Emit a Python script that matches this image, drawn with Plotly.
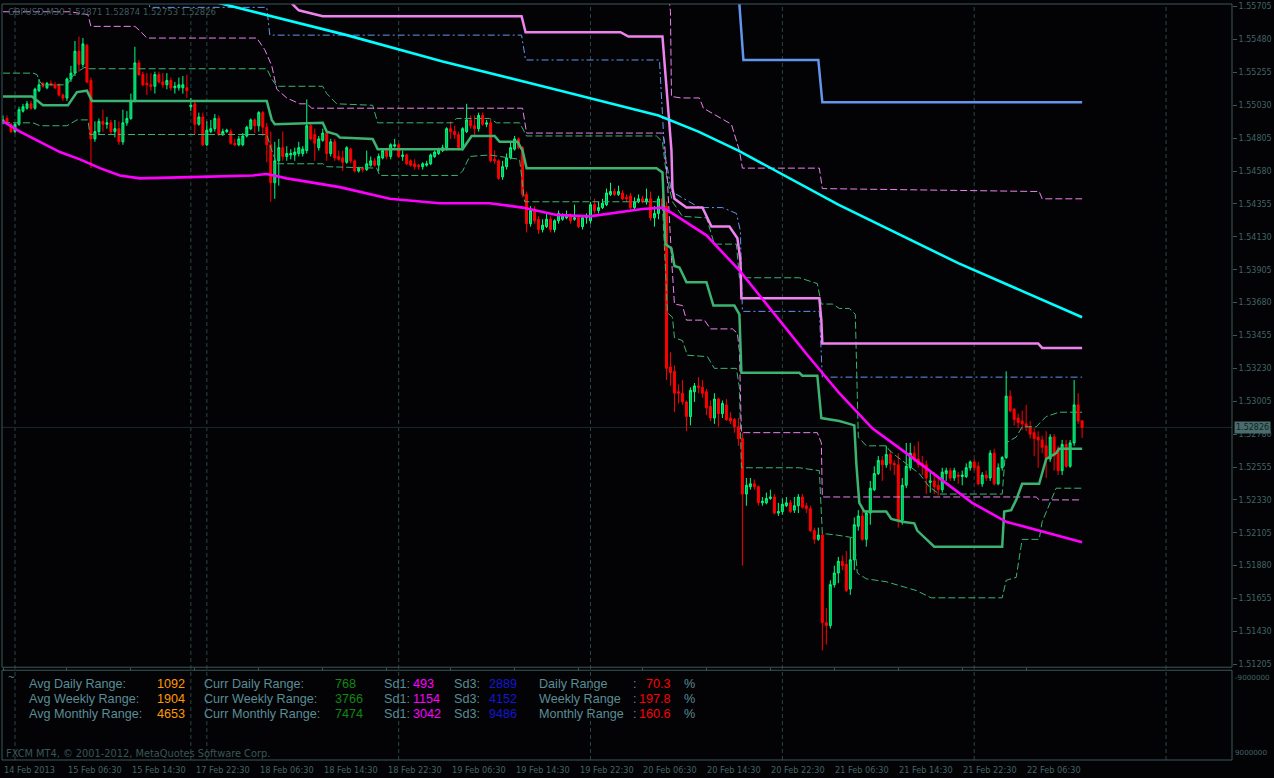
import plotly.graph_objects as go

# ---------------- data (GBPUSD M30) ----------------
BAR_INDEX = list(range(271))

OPEN = [
 1.5491,1.5494,1.5490,1.5485,1.5490,1.5499,1.5501,1.5504,1.5501,1.5513,
 1.5518,1.5515,1.5518,1.5517,1.5517,1.5510,1.5508,1.5521,1.5525,1.5540,
 1.5531,1.5544,1.5520,1.5480,1.5485,1.5492,1.5490,1.5491,1.5485,1.5487,
 1.5478,1.5491,1.5494,1.5506,1.5532,1.5524,1.5518,1.5517,1.5516,1.5524,
 1.5519,1.5517,1.5520,1.5515,1.5515,1.5515,1.5515,1.5502,1.5504,1.5490,
 1.5495,1.5476,1.5485,1.5487,1.5494,1.5483,1.5485,1.5485,1.5477,1.5476,
 1.5476,1.5482,1.5487,1.5493,1.5489,1.5498,1.5488,1.5476,1.5450,1.5465,
 1.5474,1.5468,1.5469,1.5469,1.5470,1.5470,1.5472,1.5489,1.5483,1.5474,
 1.5479,1.5484,1.5470,1.5478,1.5468,1.5467,1.5464,1.5473,1.5465,1.5458,
 1.5460,1.5459,1.5462,1.5465,1.5462,1.5467,1.5472,1.5468,1.5475,1.5476,
 1.5468,1.5469,1.5465,1.5463,1.5462,1.5461,1.5462,1.5463,1.5468,1.5470,
 1.5472,1.5474,1.5487,1.5485,1.5483,1.5474,1.5485,1.5493,1.5489,1.5487,
 1.5496,1.5490,1.5491,1.5466,1.5465,1.5454,1.5461,1.5467,1.5473,1.5480,
 1.5474,1.5442,1.5422,1.5431,1.5425,1.5418,1.5420,1.5425,1.5418,1.5424,
 1.5425,1.5426,1.5427,1.5425,1.5426,1.5420,1.5426,1.5424,1.5435,1.5431,
 1.5433,1.5435,1.5442,1.5444,1.5442,1.5443,1.5440,1.5441,1.5433,1.5437,
 1.5439,1.5437,1.5439,1.5426,1.5429,1.5439,1.5434,1.5324,1.5321,1.5307,
 1.5306,1.5300,1.5290,1.5307,1.5311,1.5310,1.5307,1.5297,1.5289,1.5302,
 1.5292,1.5298,1.5289,1.5288,1.5283,1.5275,1.5237,1.5242,1.5244,1.5242,
 1.5231,1.5231,1.5234,1.5235,1.5224,1.5225,1.5229,1.5231,1.5226,1.5229,
 1.5235,1.5229,1.5227,1.5212,1.5206,1.5209,1.5149,1.5147,1.5175,1.5183,
 1.5191,1.5189,1.5172,1.5192,1.5215,1.5222,1.5206,1.5224,1.5240,1.5251,
 1.5260,1.5257,1.5264,1.5258,1.5257,1.5219,1.5243,1.5255,1.5265,1.5261,
 1.5258,1.5257,1.5245,1.5246,1.5243,1.5240,1.5251,1.5253,1.5248,1.5250,
 1.5249,1.5249,1.5255,1.5259,1.5256,1.5244,1.5250,1.5248,1.5265,1.5244,
 1.5255,1.5262,1.5304,1.5295,1.5289,1.5287,1.5285,1.5283,1.5279,1.5276,
 1.5274,1.5270,1.5261,1.5276,1.5268,1.5253,1.5271,1.5256,1.5272,1.5298,
 1.52871]

HIGH = [
 1.5496,1.5496,1.5491,1.5491,1.5502,1.5504,1.5506,1.5506,1.5515,1.5521,
 1.5519,1.5519,1.5520,1.5519,1.5518,1.5511,1.5522,1.5530,1.5547,1.5550,
 1.5549,1.5545,1.5522,1.5492,1.5494,1.5500,1.5495,1.5493,1.5493,1.5492,
 1.5500,1.5499,1.5511,1.5543,1.5534,1.5526,1.5525,1.5525,1.5526,1.5526,
 1.5525,1.5525,1.5522,1.5519,1.5522,1.5523,1.5524,1.5508,1.5506,1.5498,
 1.5498,1.5492,1.5493,1.5497,1.5496,1.5487,1.5487,1.5487,1.5480,1.5482,
 1.5484,1.5489,1.5494,1.5494,1.5499,1.5499,1.5491,1.5485,1.5478,1.5480,
 1.5485,1.5475,1.5473,1.5474,1.5478,1.5475,1.5507,1.5491,1.5487,1.5482,
 1.5487,1.5485,1.5480,1.5480,1.5472,1.5472,1.5475,1.5474,1.5466,1.5461,
 1.5461,1.5472,1.5468,1.5467,1.5470,1.5473,1.5474,1.5477,1.5480,1.5477,
 1.5472,1.5470,1.5466,1.5466,1.5463,1.5464,1.5465,1.5470,1.5472,1.5474,
 1.5476,1.5488,1.5492,1.5489,1.5485,1.5488,1.5504,1.5496,1.5496,1.5498,
 1.5498,1.5493,1.5493,1.5472,1.5466,1.5465,1.5470,1.5478,1.5482,1.5481,
 1.5475,1.5444,1.5434,1.5434,1.5427,1.5425,1.5429,1.5427,1.5425,1.5431,
 1.5429,1.5431,1.5429,1.5435,1.5427,1.5427,1.5429,1.5437,1.5439,1.5437,
 1.5439,1.5446,1.5450,1.5446,1.5448,1.5445,1.5442,1.5443,1.5440,1.5442,
 1.5441,1.5446,1.5444,1.5434,1.5441,1.5442,1.5437,1.5334,1.5325,1.5312,
 1.5315,1.5301,1.5310,1.5313,1.5317,1.5315,1.5309,1.5301,1.5306,1.5303,
 1.5301,1.5302,1.5293,1.5289,1.5289,1.5279,1.5248,1.5248,1.5247,1.5243,
 1.5235,1.5238,1.5240,1.5237,1.5231,1.5234,1.5235,1.5233,1.5235,1.5237,
 1.5237,1.5231,1.5229,1.5214,1.5214,1.5211,1.5159,1.5178,1.5188,1.5194,
 1.5195,1.5198,1.5207,1.5221,1.5226,1.5226,1.5226,1.5246,1.5256,1.5263,
 1.5263,1.5270,1.5267,1.5260,1.5265,1.5248,1.5272,1.5272,1.5270,1.5273,
 1.5263,1.5260,1.5253,1.5252,1.5248,1.5255,1.5255,1.5255,1.5255,1.5252,
 1.5253,1.5258,1.5260,1.5261,1.5259,1.5252,1.5253,1.5267,1.5268,1.5258,
 1.5263,1.5321,1.5308,1.5296,1.5292,1.5294,1.5298,1.5287,1.5282,1.5280,
 1.5277,1.5280,1.5278,1.5278,1.5270,1.5274,1.5274,1.5274,1.5315,1.5306,
 1.52874]

LOW = [
 1.5490,1.5490,1.5484,1.5484,1.5489,1.5498,1.5500,1.5500,1.5500,1.5512,
 1.5515,1.5514,1.5516,1.5514,1.5509,1.5506,1.5506,1.5519,1.5523,1.5526,
 1.5529,1.5518,1.5460,1.5478,1.5483,1.5485,1.5487,1.5483,1.5481,1.5476,
 1.5476,1.5489,1.5493,1.5505,1.5523,1.5516,1.5510,1.5513,1.5511,1.5518,
 1.5515,1.5514,1.5513,1.5511,1.5513,1.5511,1.5508,1.5499,1.5483,1.5489,
 1.5475,1.5475,1.5484,1.5485,1.5482,1.5482,1.5484,1.5476,1.5475,1.5475,
 1.5475,1.5481,1.5486,1.5484,1.5485,1.5482,1.5464,1.5437,1.5439,1.5448,
 1.5465,1.5465,1.5466,1.5465,1.5468,1.5468,1.5470,1.5479,1.5465,1.5472,
 1.5478,1.5465,1.5468,1.5465,1.5465,1.5458,1.5463,1.5463,1.5457,1.5457,
 1.5457,1.5458,1.5461,1.5461,1.5458,1.5466,1.5466,1.5466,1.5474,1.5467,
 1.5465,1.5462,1.5461,1.5459,1.5459,1.5459,1.5461,1.5462,1.5467,1.5469,
 1.5471,1.5472,1.5480,1.5480,1.5472,1.5472,1.5484,1.5487,1.5482,1.5485,
 1.5489,1.5488,1.5464,1.5463,1.5452,1.5452,1.5459,1.5466,1.5472,1.5473,
 1.5440,1.5416,1.5420,1.5422,1.5415,1.5416,1.5419,1.5416,1.5416,1.5422,
 1.5424,1.5425,1.5422,1.5424,1.5419,1.5418,1.5422,1.5422,1.5429,1.5429,
 1.5432,1.5434,1.5441,1.5441,1.5441,1.5438,1.5437,1.5432,1.5432,1.5436,
 1.5436,1.5435,1.5424,1.5420,1.5425,1.5433,1.5315,1.5311,1.5293,1.5299,
 1.5298,1.5280,1.5284,1.5300,1.5306,1.5303,1.5291,1.5287,1.5285,1.5283,
 1.5289,1.5287,1.5285,1.5279,1.5270,1.5188,1.5229,1.5240,1.5240,1.5229,
 1.5229,1.5230,1.5233,1.5223,1.5222,1.5223,1.5228,1.5224,1.5224,1.5224,
 1.5227,1.5224,1.5211,1.5203,1.5205,1.5130,1.5134,1.5145,1.5173,1.5176,
 1.5185,1.5170,1.5168,1.5185,1.5212,1.5205,1.5201,1.5216,1.5239,1.5250,
 1.5246,1.5255,1.5253,1.5250,1.5214,1.5216,1.5241,1.5253,1.5259,1.5255,
 1.5250,1.5237,1.5238,1.5237,1.5236,1.5238,1.5246,1.5246,1.5246,1.5244,
 1.5243,1.5248,1.5253,1.5253,1.5243,1.5242,1.5246,1.5246,1.5243,1.5243,
 1.5253,1.5261,1.5293,1.5284,1.5282,1.5281,1.5280,1.5275,1.5263,1.5255,
 1.5265,1.5248,1.5259,1.5253,1.5250,1.5250,1.5255,1.5255,1.5270,1.5285,
 1.52753]

CLOSE = [
 1.5493,1.5491,1.5485,1.5490,1.5500,1.5502,1.5504,1.5501,1.5514,1.5517,
 1.5516,1.5518,1.5517,1.5515,1.5510,1.5508,1.5521,1.5525,1.5540,1.5531,
 1.5545,1.5519,1.5480,1.5485,1.5492,1.5490,1.5491,1.5485,1.5487,1.5478,
 1.5491,1.5494,1.5506,1.5532,1.5524,1.5517,1.5517,1.5516,1.5524,1.5519,
 1.5517,1.5520,1.5515,1.5516,1.5517,1.5517,1.5513,1.5503,1.5490,1.5495,
 1.5476,1.5486,1.5487,1.5494,1.5483,1.5485,1.5486,1.5477,1.5476,1.5480,
 1.5482,1.5488,1.5493,1.5489,1.5498,1.5488,1.5476,1.5450,1.5465,1.5474,
 1.5468,1.5470,1.5470,1.5471,1.5474,1.5473,1.5489,1.5480,1.5477,1.5480,
 1.5484,1.5470,1.5478,1.5467,1.5466,1.5464,1.5474,1.5465,1.5458,1.5460,
 1.5459,1.5463,1.5465,1.5462,1.5468,1.5472,1.5468,1.5476,1.5476,1.5468,
 1.5469,1.5463,1.5462,1.5461,1.5461,1.5463,1.5463,1.5469,1.5471,1.5473,
 1.5474,1.5487,1.5485,1.5483,1.5474,1.5487,1.5493,1.5489,1.5487,1.5496,
 1.5490,1.5491,1.5465,1.5465,1.5453,1.5461,1.5467,1.5474,1.5480,1.5474,
 1.5442,1.5422,1.5431,1.5424,1.5418,1.5421,1.5425,1.5418,1.5424,1.5429,
 1.5428,1.5427,1.5424,1.5426,1.5420,1.5426,1.5427,1.5435,1.5431,1.5433,
 1.5436,1.5443,1.5444,1.5442,1.5444,1.5439,1.5439,1.5433,1.5437,1.5439,
 1.5437,1.5439,1.5426,1.5429,1.5439,1.5434,1.5323,1.5320,1.5306,1.5306,
 1.5300,1.5290,1.5308,1.5311,1.5310,1.5306,1.5296,1.5289,1.5302,1.5292,
 1.5299,1.5288,1.5287,1.5283,1.5275,1.5237,1.5243,1.5244,1.5242,1.5231,
 1.5232,1.5234,1.5235,1.5224,1.5225,1.5230,1.5231,1.5225,1.5229,1.5235,
 1.5228,1.5227,1.5212,1.5206,1.5209,1.5149,1.5147,1.5175,1.5183,1.5191,
 1.5188,1.5171,1.5192,1.5216,1.5222,1.5206,1.5224,1.5241,1.5251,1.5260,
 1.5257,1.5264,1.5258,1.5257,1.5219,1.5243,1.5256,1.5265,1.5261,1.5257,
 1.5257,1.5248,1.5246,1.5242,1.5240,1.5252,1.5253,1.5248,1.5253,1.5249,
 1.5250,1.5255,1.5259,1.5255,1.5244,1.5250,1.5248,1.5265,1.5244,1.5255,
 1.5262,1.5304,1.5294,1.5288,1.5286,1.5285,1.5283,1.5278,1.5275,1.5274,
 1.5269,1.5261,1.5276,1.5263,1.5253,1.5271,1.5256,1.5272,1.5298,1.5287,
 1.52826]

# indicator lines: vertices (bar index, price)
CYAN_X = [0, 55.5, 86, 110, 138, 164, 174, 184, 209, 239, 270]
CYAN_Y = [1.5609, 1.5572, 1.5551, 1.5533, 1.5514, 1.5496, 1.5485, 1.5472, 1.5435, 1.5395, 1.5358]

MAGENTA_X = [0, 4.25, 9.25, 14.25, 19.25, 24.25, 29.25, 34.25, 49.25, 62.5,
             66, 71, 84.25, 96.75, 109.25, 121.75, 130, 138.5, 146.75, 155,
             160, 165, 167.5, 176, 184.25, 192.5, 201, 209.25, 217.5, 226,
             234.25, 242.5, 251, 259.25, 270]
MAGENTA_Y = [1.5492, 1.5485, 1.5478, 1.5471, 1.5466, 1.5460, 1.5455, 1.5453, 1.5454, 1.5455,
             1.5456, 1.5453, 1.5447, 1.5439, 1.5436, 1.5436, 1.5433, 1.5428, 1.5427, 1.5430,
             1.5432, 1.5433, 1.5429, 1.5414, 1.5390, 1.5362, 1.5333, 1.5306, 1.5282, 1.5265,
             1.5248, 1.5231, 1.5218, 1.5212, 1.5204]

GREEN_MID_X = [0, 7.25, 10, 16.25, 18.5, 21, 22.25, 66, 67.25, 68, 80, 81, 83.5, 84.25,
               92.5, 93.75, 115, 117.25, 123, 124.25, 128.75, 130, 131, 163.5, 165, 165.75,
               167.25, 168, 169.25, 171, 176, 177.75, 183, 184.25, 184.75, 199.25, 200,
               203.75, 204.75, 209.25, 211.75, 213, 213.5, 214.25, 215.5, 221, 222.25, 225,
               228, 228.75, 233, 250, 250.5, 252.25, 253.5, 255, 259.25, 260, 261, 263.5,
               264.25, 270]
GREEN_MID_Y = [1.5509, 1.5509, 1.5503, 1.5503, 1.5512, 1.5513, 1.5506, 1.5506, 1.5493, 1.5490,
               1.5491, 1.5485, 1.5483, 1.5481, 1.5480, 1.5473, 1.5473, 1.5482, 1.5482, 1.5478,
               1.5478, 1.5472, 1.5460, 1.5460, 1.5457, 1.5408, 1.5405, 1.5393, 1.5392, 1.5382,
               1.5382, 1.5366, 1.5366, 1.5360, 1.5320, 1.5320, 1.5318, 1.5318, 1.5289, 1.5287,
               1.5285, 1.5284, 1.5258, 1.5231, 1.5225, 1.5225, 1.5220, 1.5218, 1.5217, 1.5212,
               1.5201, 1.5201, 1.5225, 1.5226, 1.5233, 1.5244, 1.5244, 1.5251, 1.5261, 1.5265,
               1.5268, 1.5268]

GREEN_UP_X = [0, 7.5, 8.5, 9.25, 10, 16, 18, 20.5, 21.75, 66, 67.25, 68.5, 80, 81, 83.5,
              92.5, 93.75, 112.5, 113.5, 121.75, 123.5, 129.25, 131, 163.5, 165, 166, 167.5,
              170, 176, 178, 183.5, 184.25, 199.25, 203.75, 204.75, 207.5, 209.25, 211.75,
              213.25, 213.75, 214, 216, 221, 221.75, 223.5, 229.25, 231.75, 234.25, 250, 251,
              253.5, 255, 258.5, 261, 264.25, 270]
GREEN_UP_Y = [1.5525, 1.5525, 1.5524, 1.5519, 1.5517, 1.5517, 1.5525, 1.5529, 1.5528, 1.5528,
              1.5521, 1.5516, 1.5516, 1.5511, 1.5504, 1.5503, 1.5491, 1.5491, 1.5494, 1.5494,
              1.5491, 1.5491, 1.5482, 1.5482, 1.5478, 1.5455, 1.5437, 1.5427, 1.5426, 1.5408,
              1.5408, 1.5385, 1.5385, 1.5381, 1.5367, 1.5367, 1.5364, 1.5364, 1.5360, 1.5310,
              1.5276, 1.5270, 1.5270, 1.5267, 1.5263, 1.5251, 1.5242, 1.5237, 1.5237, 1.5272,
              1.5276, 1.5283, 1.5283, 1.5290, 1.5293, 1.5293]

GREEN_DN_X = [0, 7.5, 9.25, 16, 18.5, 21.25, 21.75, 66, 67.25, 68.5, 80, 81, 93.5, 94.25,
              113.75, 115, 116.75, 121.75, 129.25, 130.5, 163.5, 165, 166.25, 167.5, 168, 170,
              171.25, 176.25, 178, 183.5, 184.25, 184.75, 199.25, 204.25, 205, 208.5, 213,
              213.75, 216, 221, 226, 228.5, 232.25, 250, 251, 253.5, 255, 259.25, 260, 263.5, 270]
GREEN_DN_Y = [1.5491, 1.5491, 1.5489, 1.5489, 1.5493, 1.5493, 1.5483, 1.5483, 1.5472, 1.5463,
              1.5463, 1.5461, 1.5460, 1.5455, 1.5455, 1.5458, 1.5468, 1.5469, 1.5466, 1.5437,
              1.5437, 1.5435, 1.5361, 1.5358, 1.5344, 1.5342, 1.5332, 1.5331, 1.5323, 1.5323,
              1.5310, 1.5255, 1.5255, 1.5253, 1.5210, 1.5209, 1.5207, 1.5183, 1.5179, 1.5177,
              1.5173, 1.5171, 1.5166, 1.5166, 1.5178, 1.5180, 1.5206, 1.5206, 1.5218, 1.5241, 1.5241]

VIOLET_MID_X = [64, 72.5, 74, 77.25, 80, 129.75, 130.75, 154.5, 156.5, 165, 167.25, 167.5, 168,
                171, 175, 177.25, 181.75, 183.75, 184.5, 184.75, 204.25, 204.75, 205, 259, 260, 270]
VIOLET_MID_Y = [1.5601, 1.5572, 1.5568, 1.5566, 1.5564, 1.5564, 1.5553, 1.5553, 1.5550, 1.5550,
                1.5472, 1.5446, 1.5439, 1.5433, 1.5433, 1.5420, 1.5420, 1.5412, 1.5397, 1.5371,
                1.5371, 1.5356, 1.5340, 1.5340, 1.5337, 1.5337]

VIOLET_UP_X = [160, 166.5, 167, 167.25, 169.75, 174.25, 175.25, 182.25, 184.25, 185, 204.25,
               205, 259.25, 260, 270]
VIOLET_UP_Y = [1.5595, 1.5580, 1.5567, 1.5509, 1.5508, 1.5508, 1.5501, 1.5490, 1.5472, 1.5460,
               1.5460, 1.5446, 1.5444, 1.5439, 1.5439]

VIOLET_DN_X = [0, 16.75, 21.25, 22, 33, 34.25, 36, 63.5, 65.5, 67.25, 68.5, 71, 74.25, 76, 77.25,
               130, 131, 165, 165.5, 166.25, 167.25, 168, 170, 171, 175.5, 177, 182.5, 183.75,
               184.25, 184.75, 203.75, 204.75, 205, 258.5, 259.25, 270]
VIOLET_DN_Y = [1.5567, 1.5567, 1.5565, 1.5557, 1.5557, 1.5554, 1.5549, 1.5549, 1.5541, 1.5530,
               1.5514, 1.5508, 1.5504, 1.5504, 1.5501, 1.5501, 1.5484, 1.5484, 1.5478, 1.5451,
               1.5399, 1.5367, 1.5366, 1.5356, 1.5356, 1.5350, 1.5350, 1.5347, 1.5335, 1.5279,
               1.5279, 1.5272, 1.5235, 1.5235, 1.5233, 1.5233]

BLUE_MID_X = [183, 184.25, 185.25, 204, 205, 270]
BLUE_MID_Y = [1.5601, 1.5572, 1.5534, 1.5534, 1.5505, 1.5505]

BLUE_DN_X = [35, 36.75, 66, 66.75, 129.75, 130.75, 164.25, 165.5, 167.25, 169.25, 174.25, 180,
             183.5, 184.5, 185, 204.25, 205, 270]
BLUE_DN_Y = [1.5588, 1.5570, 1.5570, 1.5551, 1.5551, 1.5534, 1.5534, 1.5472, 1.5444, 1.5441,
             1.5433, 1.5433, 1.5429, 1.5417, 1.5362, 1.5362, 1.5317, 1.5317]

PRICE_TICKS = [1.55705, 1.55480, 1.55255, 1.55030, 1.54805, 1.54580, 1.54355, 1.54130,
               1.53905, 1.53680, 1.53455, 1.53230, 1.53005, 1.52780, 1.52555, 1.52330,
               1.52105, 1.51880, 1.51655, 1.51430, 1.51205]
LAST_PRICE = 1.52826

TIME_TICK_BARS = [0, 16, 32, 48, 64, 80, 96, 112, 128, 144, 160, 176, 192, 208, 224, 240, 256]
TIME_TICK_LABELS = ["14 Feb 2013", "15 Feb 06:30", "15 Feb 14:30", "17 Feb 22:30", "18 Feb 06:30",
                    "18 Feb 14:30", "18 Feb 22:30", "19 Feb 06:30", "19 Feb 14:30", "19 Feb 22:30",
                    "20 Feb 06:30", "20 Feb 14:30", "20 Feb 22:30", "21 Feb 06:30", "21 Feb 14:30",
                    "21 Feb 22:30", "22 Feb 06:30"]
GRID_BARS = [3, 47, 51, 99, 147, 195, 243, 291]

SUB_SCALE_LABELS = ["-9000000", "9000000"]

ROW_NAMES = ["Daily", "Weekly", "Monthly"]
AVG_RANGE = [1092, 1904, 4653]
CURR_RANGE = [768, 3766, 7474]
SD1 = [493, 1154, 3042]
SD3 = [2889, 4152, 9486]
RANGE_PCT = [70.3, 197.8, 160.6]

TITLE = "GBPUSD,M30 1.52871 1.52874 1.52753 1.52826"
COPYRIGHT = "FXCM MT4, \u00a9 2001-2012, MetaQuotes Software Corp."

# ---------------- styling ----------------
W, H = 1274, 778
ML, MR, MT, MB = 2, 41, 2, 17
BG = "#030306"
BORDER = "#3a5858"
GRID = "#2c4543"
AXIS_TEXT = "#426464"
LBL = "#5a8d94"
AX_FONT = "DejaVu Sans"
TXT_FONT = "Liberation Sans"


def xp(px):
    return (px - ML) / (W - ML - MR)


def yp(py):
    return (H - MB - py) / (H - MT - MB)


MAIN_DOM = [yp(667), 1.0]
SUB_DOM = [yp(760), yp(670)]

fig = go.Figure()

fig.add_trace(go.Candlestick(
    x=BAR_INDEX, open=OPEN, high=HIGH, low=LOW, close=CLOSE,
    increasing=dict(line=dict(color="#00ff7f", width=1), fillcolor="#00b85a"),
    decreasing=dict(line=dict(color="#ff0000", width=1), fillcolor="#ff0000"),
    whiskerwidth=0, hoverinfo="skip", showlegend=False, xaxis="x", yaxis="y"))


def add_line(xs, ys, color, width, dash="solid"):
    fig.add_trace(go.Scatter(x=xs, y=ys, mode="lines", hoverinfo="skip", showlegend=False,
                             line=dict(color=color, width=width, dash=dash),
                             xaxis="x", yaxis="y"))


DASH = "7px,3px"
DASHDOT = "7px,3px,2px,3px"
add_line(GREEN_UP_X, GREEN_UP_Y, "#3cb371", 1, DASH)
add_line(GREEN_DN_X, GREEN_DN_Y, "#3cb371", 1, DASH)
add_line(VIOLET_UP_X, VIOLET_UP_Y, "#ee82ee", 1, DASH)
add_line(VIOLET_DN_X, VIOLET_DN_Y, "#ee82ee", 1, DASH)
add_line(BLUE_DN_X, BLUE_DN_Y, "#6495ed", 1, DASHDOT)
add_line(GREEN_MID_X, GREEN_MID_Y, "#3cb371", 2.5)
add_line(VIOLET_MID_X, VIOLET_MID_Y, "#ee82ee", 2.5)
add_line(BLUE_MID_X, BLUE_MID_Y, "#6495ed", 2.5)
add_line(CYAN_X, CYAN_Y, "#00ffff", 2.6)
add_line(MAGENTA_X, MAGENTA_Y, "#ff00ff", 2.6)

shapes = []
for g in GRID_BARS:
    shapes.append(dict(type="line", xref="x", yref="paper", x0=g, x1=g, y0=SUB_DOM[0], y1=1,
                       line=dict(color=GRID, width=1, dash="4px,3px"), layer="below"))
shapes.append(dict(type="line", xref="paper", yref="y", x0=0, x1=1, y0=LAST_PRICE, y1=LAST_PRICE,
                   line=dict(color="#1b2929", width=1), layer="below"))
for dom in (MAIN_DOM, SUB_DOM):
    shapes.append(dict(type="rect", xref="paper", yref="paper", x0=0, x1=1, y0=dom[0], y1=dom[1],
                       line=dict(color=BORDER, width=1), fillcolor="rgba(0,0,0,0)", layer="above"))

ann = []
ann.append(dict(text=TITLE, xref="paper", yref="paper", x=xp(6), y=yp(10), xanchor="left",
                yanchor="middle", showarrow=False, font=dict(family=AX_FONT, size=8.5, color="#3d5b5b")))
for b, t in zip(TIME_TICK_BARS, TIME_TICK_LABELS):
    ann.append(dict(text=t, xref="x", yref="paper", x=b, y=yp(770), xanchor="left", yanchor="middle",
                    xshift=-1, showarrow=False, font=dict(family=AX_FONT, size=8.2, color=AXIS_TEXT)))
ann.append(dict(text=f"{LAST_PRICE:.5f}", xref="paper", yref="y", x=1, y=LAST_PRICE, xanchor="left",
                yanchor="middle", xshift=2, showarrow=False, bgcolor="#4a6c6c", borderpad=1,
                font=dict(family=AX_FONT, size=8, color="#0e2222")))
for lab, py in zip(SUB_SCALE_LABELS, (677, 752)):
    ann.append(dict(text=lab, xref="paper", yref="paper", x=xp(1235), y=yp(py), xanchor="left",
                    yanchor="middle", showarrow=False, borderpad=0,
                    font=dict(family=AX_FONT, size=7.2, color=AXIS_TEXT)))
ann.append(dict(text="~", xref="paper", yref="paper", x=xp(6), y=yp(677), xanchor="left",
                yanchor="middle", showarrow=False, font=dict(family=TXT_FONT, size=11, color=LBL)))
ann.append(dict(text=COPYRIGHT, xref="paper", yref="paper", x=xp(4), y=yp(753), xanchor="left",
                yanchor="middle", showarrow=False, font=dict(family=AX_FONT, size=9.8, color="#3a5656")))

ROW_Y = [684, 698.5, 713.5]
for k, name in enumerate(ROW_NAMES):
    py = ROW_Y[k]

    def t(text, px, color, anchor="left"):
        ann.append(dict(text=text, xref="paper", yref="paper", x=xp(px), y=yp(py), xanchor=anchor,
                        yanchor="middle", showarrow=False,
                        font=dict(family=TXT_FONT, size=12.6, color=color)))

    t(f"Avg {name} Range:", 27, LBL)
    t(str(AVG_RANGE[k]), 187, "#ff9900", "right")
    t(f"Curr {name} Range:", 202, LBL)
    t(str(CURR_RANGE[k]), 333, "#118811")
    t("Sd1:", 382, LBL)
    t(str(SD1[k]), 411, "#ff00ff")
    t("Sd3:", 452, LBL)
    t(str(SD3[k]), 487, "#1515d0")
    t(f"{name} Range", 537, LBL)
    t(":", 632, LBL)
    t(f"{RANGE_PCT[k]:.1f}", 674, "#ff0000", "right")
    t("%", 683, LBL)

fig.update_layout(
    width=W, height=H, margin=dict(l=ML, r=MR, t=MT, b=MB, pad=0),
    paper_bgcolor=BG, plot_bgcolor=BG, showlegend=False, hovermode=False,
    xaxis=dict(domain=[0, 1], range=[-0.25, 307.5], anchor="y2", showgrid=False, zeroline=False,
               showline=False, tickvals=TIME_TICK_BARS, ticks="outside", ticklen=3,
               tickcolor=BORDER, showticklabels=False, rangeslider=dict(visible=False),
               fixedrange=True),
    yaxis=dict(domain=MAIN_DOM, range=[1.51185, 1.55723], side="right", anchor="x",
               showgrid=False, zeroline=False, showline=False, tickvals=PRICE_TICKS,
               ticktext=[f"{v:.5f}" for v in PRICE_TICKS], ticks="outside", ticklen=4,
               tickcolor=BORDER, tickfont=dict(family=AX_FONT, size=8, color=AXIS_TEXT),
               ticklabeloverflow="allow", fixedrange=True),
    yaxis2=dict(domain=SUB_DOM, range=[0, 1], side="right", anchor="x", showgrid=False,
                zeroline=False, showline=False, showticklabels=False, ticks="",
                fixedrange=True),
    shapes=shapes, annotations=ann,
)

fig.write_html("out.html", config={"displayModeBar": False},
               post_script="document.body.style.margin='0';document.body.style.overflow='hidden';")
